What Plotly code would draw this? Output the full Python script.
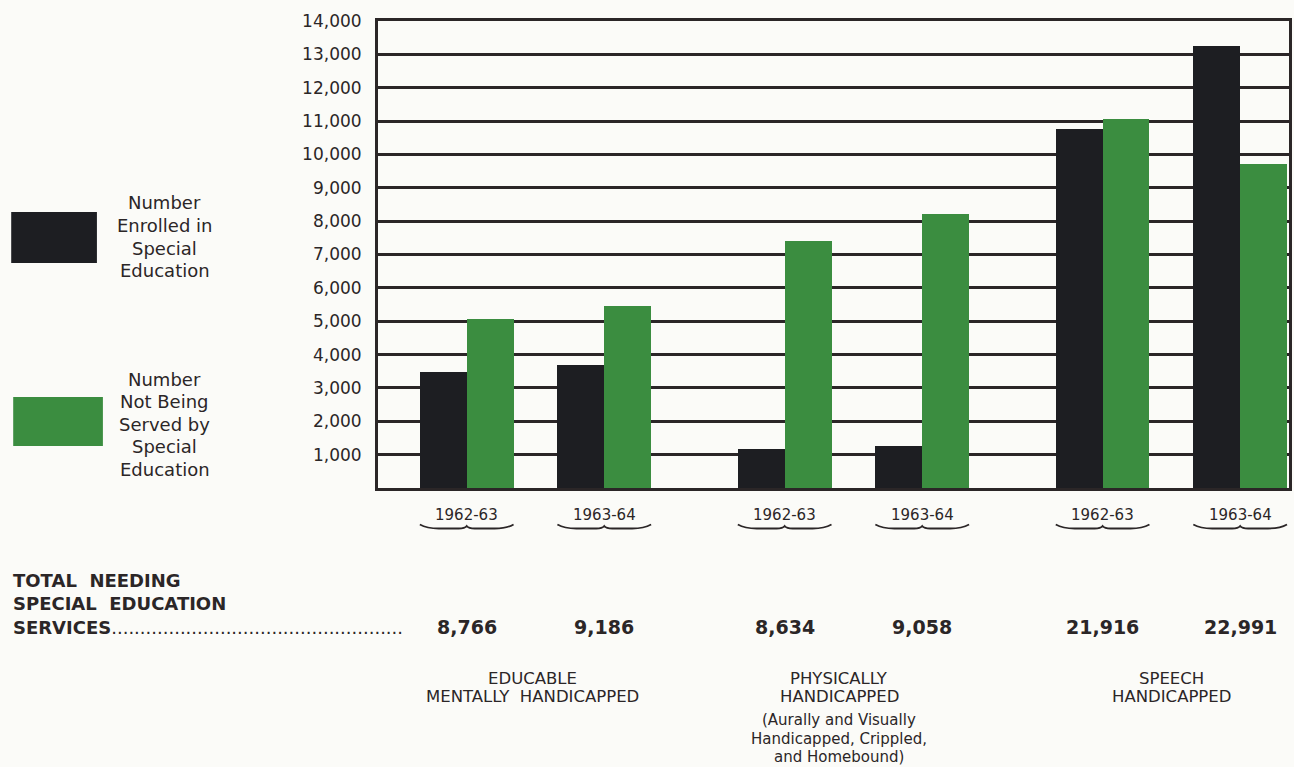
import plotly.graph_objects as go

# --- data -------------------------------------------------------------
groups = [["EDUCABLE", "MENTALLY  HANDICAPPED"],
          ["PHYSICALLY", "HANDICAPPED"],
          ["SPEECH", "HANDICAPPED"]]
group_note = {1: ["(Aurally and Visually", "Handicapped, Crippled,", "and Homebound)"]}
years = ["1962-63", "1963-64"]

enrolled = [3480, 3700, 1180, 1250, 10750, 13250]
not_served = [5080, 5450, 7400, 8200, 11050, 9700]
totals = [8766, 9186, 8634, 9058, 21916, 22991]

y_ticks = list(range(1000, 15000, 1000))
y_tick_text = [f"{v:,}" for v in y_ticks]

# --- layout constants ---------------------------------------------------
W, H = 1294, 767
ML, MR, MT, MB = 378, 2, 21, 279
PW = W - ML - MR          # plot width in px (x axis uses 1 unit = 1 px)
PH = H - MT - MB
BAR_W = 47
FIRST, YEAR_STEP, GROUP_STEP = 89, 138, 319

INK = "#2b2627"
BLACK = "#1d1e22"
GREEN = "#3b8d40"
BG = "#fbfbf8"
FONT = "'DejaVu Sans', Verdana, sans-serif"

centers = [FIRST + g * GROUP_STEP + k * YEAR_STEP
           for g in range(len(groups)) for k in range(len(years))]


def px_x(px):
    """page x pixel -> paper x"""
    return (px - ML) / PW


def px_y(py):
    """page y pixel -> paper y"""
    return (H - MB - py) / PH


def text_at(px, py, txt, size, anchor="center", bold=False):
    return dict(x=px_x(px), y=px_y(py), xref="paper", yref="paper",
                text=f"<b>{txt}</b>" if bold else txt, showarrow=False,
                font=dict(family=FONT, size=size, color=INK),
                xanchor=anchor, yanchor="middle")


fig = go.Figure()
fig.add_trace(go.Bar(
    name="Number Enrolled in Special Education",
    x=[c - BAR_W / 2 for c in centers], y=enrolled, width=BAR_W,
    marker=dict(color=BLACK, line=dict(width=0)),
))
fig.add_trace(go.Bar(
    name="Number Not Being Served by Special Education",
    x=[c + BAR_W / 2 for c in centers], y=not_served, width=BAR_W,
    marker=dict(color=GREEN, line=dict(width=0)),
))

shapes = []
annotations = []

# year labels with a small brace underneath
for i, c in enumerate(centers):
    cx = ML + c
    annotations.append(text_at(cx, 515, years[i % 2], 15))
    y0 = 527

    def P(dx, dy):
        return f"{px_x(cx + dx):.5f} {px_y(y0 + dy):.5f}"

    path = (f"M {P(-47, -2.5)} Q {P(-40, 1.5)} {P(-28, 1.5)} L {P(-8, 1.5)} "
            f"Q {P(-2, 1.5)} {P(0, -1)} Q {P(2, 1.5)} {P(8, 1.5)} L {P(28, 1.5)} "
            f"Q {P(40, 1.5)} {P(47, -2.5)}")
    shapes.append(dict(type="path", path=path, xref="paper", yref="paper",
                       line=dict(color=INK, width=1.8)))

# totals row
for i, c in enumerate(centers):
    annotations.append(text_at(ML + c, 627, f"{totals[i]:,}", 19, bold=True))

for j, t in enumerate(["TOTAL  NEEDING", "SPECIAL  EDUCATION"]):
    annotations.append(text_at(10, 580 + 23.5 * j, t, 18, anchor="left", bold=True))
annotations.append(dict(
    x=px_x(10), y=px_y(627), xref="paper", yref="paper",
    text="<b>SERVICES</b>" + "." * 51, showarrow=False,
    font=dict(family=FONT, size=18, color=INK),
    xanchor="left", yanchor="middle"))

# group captions
label_shift = [-3, -14, 0]
for g, lines in enumerate(groups):
    mid = ML + (centers[2 * g] + centers[2 * g + 1]) / 2 + label_shift[g]
    for j, ln in enumerate(lines):
        annotations.append(text_at(mid, 678 + 18 * j, ln, 16.5))
    for j, ln in enumerate(group_note.get(g, [])):
        annotations.append(text_at(mid, 720 + 18.5 * j, ln, 15))

# hand-drawn legend on the left
legend_items = [
    (BLACK, (10, 212, 96, 263), ["Number", "Enrolled in", "Special", "Education"], 203),
    (GREEN, (12, 397, 102, 446), ["Number", "Not Being", "Served by", "Special", "Education"], 379),
]
for color, (x0, y0, x1, y1), lines, ty in legend_items:
    shapes.append(dict(type="rect", xref="paper", yref="paper",
                       x0=px_x(x0), x1=px_x(x1), y0=px_y(y1), y1=px_y(y0),
                       fillcolor=color, line=dict(width=0)))
    for j, ln in enumerate(lines):
        annotations.append(text_at(164, ty + 22.5 * j, ln, 18))

fig.update_layout(
    width=W, height=H,
    margin=dict(l=ML, r=MR, t=MT, b=MB, pad=0),
    paper_bgcolor=BG, plot_bgcolor=BG,
    barmode="overlay", bargap=0,
    showlegend=False,
    shapes=shapes, annotations=annotations,
    xaxis=dict(range=[0, PW], showgrid=False, zeroline=False,
               showticklabels=False, ticks="",
               showline=True, mirror=True, linecolor=INK, linewidth=3),
    yaxis=dict(range=[0, 14000], tickvals=y_ticks, ticktext=y_tick_text,
               showgrid=True, gridcolor=INK, gridwidth=3,
               zeroline=False, showline=True, mirror=True,
               linecolor=INK, linewidth=3,
               ticks="outside", ticklen=10, tickcolor="rgba(0,0,0,0)",
               tickfont=dict(family=FONT, size=17, color=INK)),
)

fig.write_html("out.html")
